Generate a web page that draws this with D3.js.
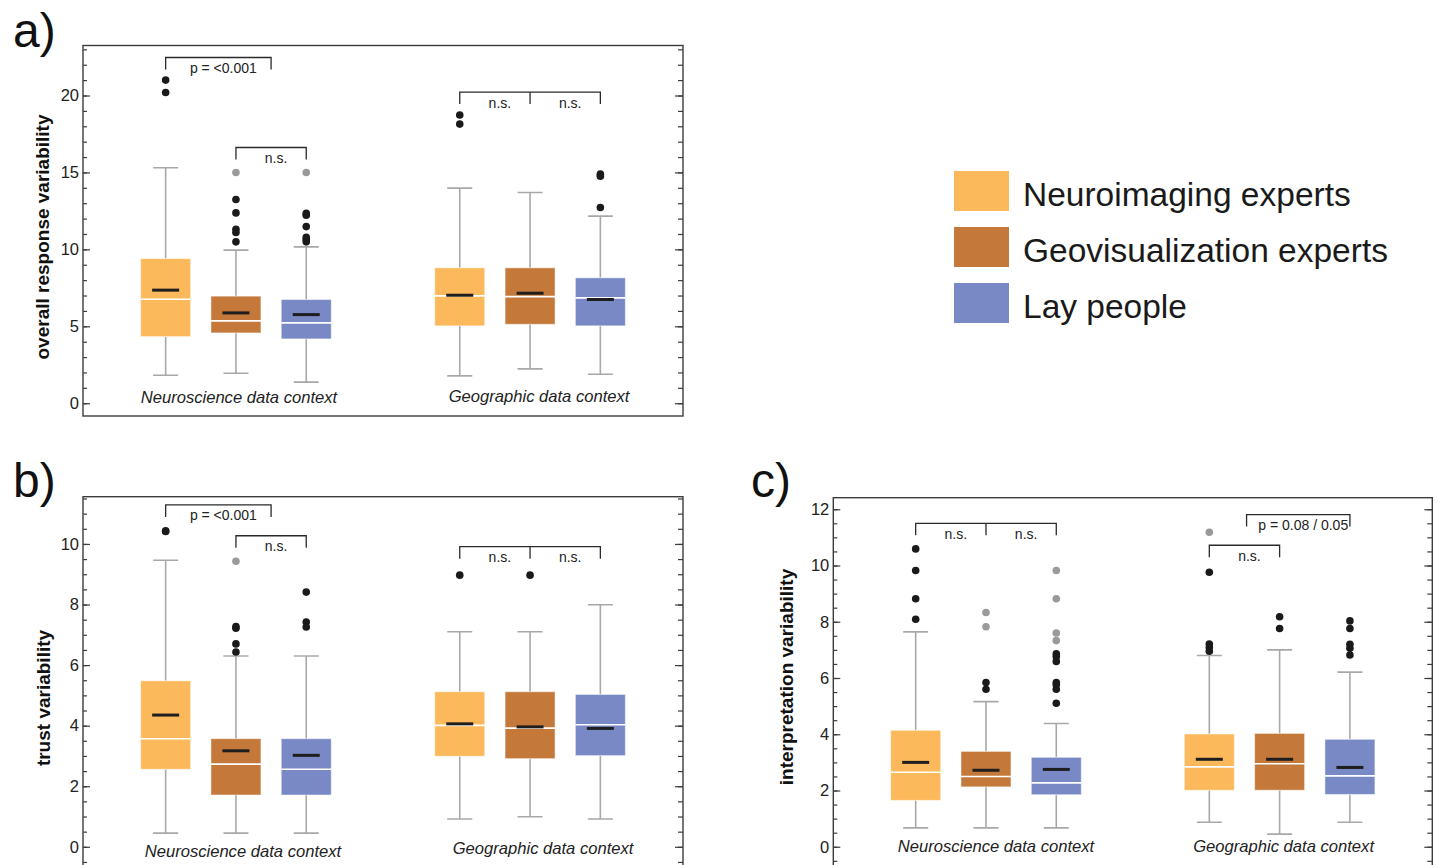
<!DOCTYPE html>
<html>
<head>
<meta charset="utf-8">
<script src="https://cdn.jsdelivr.net/npm/d3@7"></script>
<style>
  body { margin: 0; background: #fff; }
  svg { display: block; font-family: "Liberation Sans", Arial, sans-serif; }
</style>
</head>
<body>
<svg id="chart" width="1438" height="865"></svg>
<script>
const groups = ['Neuroimaging experts', 'Geovisualization experts', 'Lay people']
const contexts = ['Neuroscience data context', 'Geographic data context']
const groupColors = ['#fbb95b', '#c4793b', '#7889c5']

// per context, per group: [whisker low, q1, median, mean, q3, whisker high]
const responseStats = [
  [[1.82, 4.33, 6.76, 7.35, 9.40, 15.3], [1.95, 4.57, 5.35, 5.87, 6.96, 9.95], [1.37, 4.18, 5.22, 5.76, 6.74, 10.16]],
  [[1.78, 5.03, 6.98, 7.02, 8.80, 13.98], [2.23, 5.13, 6.93, 7.15, 8.80, 13.70], [1.88, 5.03, 6.85, 6.74, 8.15, 12.16]],
]
const responseOutliers = [
  [[21.0, 20.2], [13.24, 12.37, 11.31, 11.1, 10.49], [12.35, 12.22, 11.48, 10.79, 10.64, 10.49]],
  [[18.73, 18.14], [], [14.89, 14.76, 12.72]],
]
const responseFar = [[[], [15.0], [15.0]], [[], [], []]]
const responseTicks = [0, 5, 10, 15, 20]

const trustStats = [
  [[0.45, 2.56, 3.57, 4.35, 5.48, 9.46], [0.45, 1.71, 2.73, 3.17, 3.57, 6.30], [0.45, 1.71, 2.56, 3.02, 3.57, 6.30]],
  [[0.92, 2.99, 4.01, 4.06, 5.12, 7.10], [0.99, 2.91, 3.92, 3.96, 5.12, 7.10], [0.92, 3.01, 4.03, 3.91, 5.03, 7.99]],
]
const trustOutliers = [
  [[10.43, 10.41], [7.27, 7.22, 6.70, 6.43], [8.41, 7.42, 7.26]],
  [[8.97], [8.97], []],
]
const trustFar = [[[], [9.43], []], [[], [], []]]
const trustTicks = [0, 2, 4, 6, 8, 10]

const interpStats = [
  [[0.67, 1.65, 2.65, 3.00, 4.14, 7.64], [0.67, 2.13, 2.50, 2.72, 3.39, 5.16], [0.67, 1.85, 2.27, 2.75, 3.18, 4.38]],
  [[0.87, 2.01, 2.84, 3.11, 4.01, 6.80], [0.45, 2.01, 2.95, 3.11, 4.03, 7.00], [0.87, 1.86, 2.52, 2.82, 3.82, 6.21]],
]
const interpOutliers = [
  [[10.59, 9.82, 8.82, 8.09], [5.84, 5.60], [6.86, 6.76, 6.59, 5.84, 5.76, 5.60, 5.10]],
  [[9.76, 7.21, 7.08, 6.95], [8.18, 7.76], [8.03, 7.76, 7.20, 7.06, 6.82]],
]
const interpFar = [[[], [8.33, 7.82], [9.82, 8.82, 7.60, 7.33]], [[11.18], [], []]]
const interpTicks = [0, 2, 4, 6, 8, 10, 12]

// significance brackets: group positions (fractional allowed), bar height in data units
const responseBrackets = [
  { ctx: 0, from: 0, to: 1.5, y: 22.47, labels: ['p = <0.001'] },
  { ctx: 0, from: 1, to: 2, y: 16.62, labels: ['n.s.'] },
  { ctx: 1, from: 0, mid: 1, to: 2, y: 20.22, labels: ['n.s.', 'n.s.'] },
]
const trustBrackets = [
  { ctx: 0, from: 0, to: 1.5, y: 11.29, labels: ['p = <0.001'] },
  { ctx: 0, from: 1, to: 2, y: 10.27, labels: ['n.s.'] },
  { ctx: 1, from: 0, mid: 1, to: 2, y: 9.91, labels: ['n.s.', 'n.s.'] },
]
const interpBrackets = [
  { ctx: 0, from: 0, mid: 1, to: 2, y: 11.5, labels: ['n.s.', 'n.s.'] },
  { ctx: 1, from: 0, to: 1, y: 10.72, labels: ['n.s.'] },
  { ctx: 1, from: 0.53, to: 2, y: 11.81, labels: ['p = 0.08 / 0.05'] },
]

const panels = [
  {
    letter: 'a)', lx: 13, ly: 47, x: 83, y: 45.5, w: 600, h: 370.5, domain: [-0.83, 23.25],
    ticks: responseTicks, minor: 1, title: 'overall response variability', tx: 49, ty: 237,
    stats: responseStats, outliers: responseOutliers, far: responseFar, brackets: responseBrackets,
    catY: [403, 401.5], catDx: [3, 9],
  },
  {
    letter: 'b)', lx: 13, ly: 497, x: 83, y: 496.7, w: 600, h: 371, domain: [-0.69, 11.56],
    ticks: trustTicks, minor: 0.5, title: 'trust variability', tx: 49.5, ty: 698,
    stats: trustStats, outliers: trustOutliers, far: trustFar, brackets: trustBrackets,
    catY: [857, 854], catDx: [7, 13],
  },
  {
    letter: 'c)', lx: 751, ly: 497, x: 833.3, y: 497.7, w: 599, h: 371, domain: [-0.78, 12.41],
    ticks: interpTicks, minor: 0.5, title: 'interpretation variability', tx: 792.5, ty: 677,
    stats: interpStats, outliers: interpOutliers, far: interpFar, brackets: interpBrackets,
    catY: [852, 852], catDx: [10, 4],
  },
]

const svg = d3.select('#chart')

function drawPanel(p) {
  const g = svg.append('g')
  const y = d3.scaleLinear().domain(p.domain).range([p.y + p.h, p.y])
  const ctxX = d3.scalePoint().domain(d3.range(contexts.length)).range([p.x, p.x + p.w]).padding(0.52)
  const grpX = d3.scaleLinear().domain([0, groups.length - 1]).range([-70.3, 70.3])
  const cx = (c, gi) => ctxX(c) + grpX(gi)

  // panel letter
  svg.append('text').attr('x', p.lx).attr('y', p.ly)
    .attr('font-size', 48).attr('fill', '#111').text(p.letter)

  // frame
  g.append('rect')
    .attr('x', p.x).attr('y', p.y).attr('width', p.w).attr('height', p.h)
    .attr('fill', 'none').attr('stroke', '#3c3c3c').attr('stroke-width', 1.4)

  // ticks on both sides, pointing inward
  const minorTicks = d3.range(Math.ceil(p.domain[0] / p.minor) * p.minor, p.domain[1], p.minor)
  const tickAxes = [
    [d3.axisRight(y).tickValues(minorTicks).tickSize(4), p.x],
    [d3.axisRight(y).tickValues(p.ticks).tickSize(7), p.x],
    [d3.axisLeft(y).tickValues(minorTicks).tickSize(5), p.x + p.w],
    [d3.axisLeft(y).tickValues(p.ticks).tickSize(8), p.x + p.w],
  ]
  tickAxes.forEach(([ax, tx]) => {
    const a = g.append('g').attr('transform', `translate(${tx},0)`).call(ax.tickFormat(''))
    a.select('.domain').remove()
    a.selectAll('line').attr('stroke', '#3c3c3c').attr('stroke-width', 1.2)
  })

  // tick labels
  const lab = g.append('g').attr('transform', `translate(${p.x},0)`)
    .call(d3.axisLeft(y).tickValues(p.ticks).tickSize(0).tickPadding(4))
  lab.select('.domain').remove()
  lab.selectAll('text').attr('font-size', 16.5).attr('fill', '#222')
    .attr('font-family', '"Liberation Sans", Arial, sans-serif')

  // y title
  g.append('text')
    .attr('transform', `translate(${p.tx},${p.ty}) rotate(-90)`)
    .attr('text-anchor', 'middle').attr('font-size', 19).attr('font-weight', 'bold')
    .attr('fill', '#111').text(p.title)

  // category labels
  g.selectAll('text.cat').data(contexts).join('text')
    .attr('class', 'cat')
    .attr('x', (d, i) => ctxX(i) + p.catDx[i]).attr('y', (d, i) => p.catY[i])
    .attr('text-anchor', 'middle').attr('font-size', 16.6).attr('font-style', 'italic')
    .attr('fill', '#222').text(d => d)

  // boxes
  const boxes = []
  p.stats.forEach((row, c) => row.forEach((s, gi) => boxes.push({
    c, gi, lo: s[0], q1: s[1], med: s[2], mean: s[3], q3: s[4], hi: s[5],
    out: p.outliers[c][gi], far: p.far[c][gi],
  })))

  const bg = g.selectAll('g.box').data(boxes).join('g').attr('class', 'box')
    .attr('transform', d => `translate(${cx(d.c, d.gi)},0)`)

  bg.append('path')
    .attr('d', d => `M0,${y(d.lo)}V${y(d.q1)}M0,${y(d.q3)}V${y(d.hi)}` +
      `M-12.5,${y(d.lo)}H12.5M-12.5,${y(d.hi)}H12.5`)
    .attr('stroke', '#a8a8a8').attr('stroke-width', 1.6).attr('fill', 'none')

  bg.append('rect')
    .attr('x', -25).attr('width', 50)
    .attr('y', d => y(d.q3)).attr('height', d => y(d.q1) - y(d.q3))
    .attr('fill', d => groupColors[d.gi])
    .attr('stroke', '#fff').attr('stroke-opacity', 0.5).attr('stroke-width', 1)

  bg.append('line')
    .attr('x1', -25).attr('x2', 25)
    .attr('y1', d => y(d.med)).attr('y2', d => y(d.med))
    .attr('stroke', '#fff').attr('stroke-width', 1.6)

  bg.append('line')
    .attr('x1', -13.5).attr('x2', 13.5)
    .attr('y1', d => y(d.mean)).attr('y2', d => y(d.mean))
    .attr('stroke', '#1e1e1e').attr('stroke-width', 3)

  bg.selectAll('circle.far').data(d => d.far).join('circle')
    .attr('class', 'far').attr('cx', 0).attr('cy', v => y(v)).attr('r', 3.8)
    .attr('fill', '#9a9a9a')

  bg.selectAll('circle.out').data(d => d.out).join('circle')
    .attr('class', 'out').attr('cx', 0).attr('cy', v => y(v)).attr('r', 3.8)
    .attr('fill', '#1a1a1a')

  // significance brackets
  const leg = 12
  p.brackets.forEach(b => {
    const x0 = cx(b.ctx, b.from), x1 = cx(b.ctx, b.to), yy = y(b.y)
    let d = `M${x0},${yy + leg}V${yy}H${x1}V${yy + leg}`
    const stops = [b.from]
    if (b.mid !== undefined) {
      d += `M${cx(b.ctx, b.mid)},${yy}V${yy + leg}`
      stops.push(b.mid)
    }
    stops.push(b.to)
    g.append('path').attr('d', d).attr('fill', 'none')
      .attr('stroke', '#2a2a2a').attr('stroke-width', 1.3)
    b.labels.forEach((t, i) => {
      const xm = (cx(b.ctx, stops[i]) + cx(b.ctx, stops[i + 1])) / 2
      g.append('text').attr('x', xm + 5).attr('y', yy + 15.5)
        .attr('text-anchor', 'middle').attr('font-size', 14)
        .attr('fill', '#222').text(t)
    })
  })
}

panels.forEach(drawPanel)

// legend
const legend = svg.append('g').attr('transform', 'translate(954,171)')
const li = legend.selectAll('g').data(groups).join('g')
  .attr('transform', (d, i) => `translate(0,${i * 56})`)
li.append('rect').attr('width', 55).attr('height', 40).attr('fill', (d, i) => groupColors[i])
li.append('text').attr('x', 69).attr('y', 34.5).attr('font-size', 33.5)
  .attr('fill', '#1a1a1a').text(d => d)
</script>
</body>
</html>
